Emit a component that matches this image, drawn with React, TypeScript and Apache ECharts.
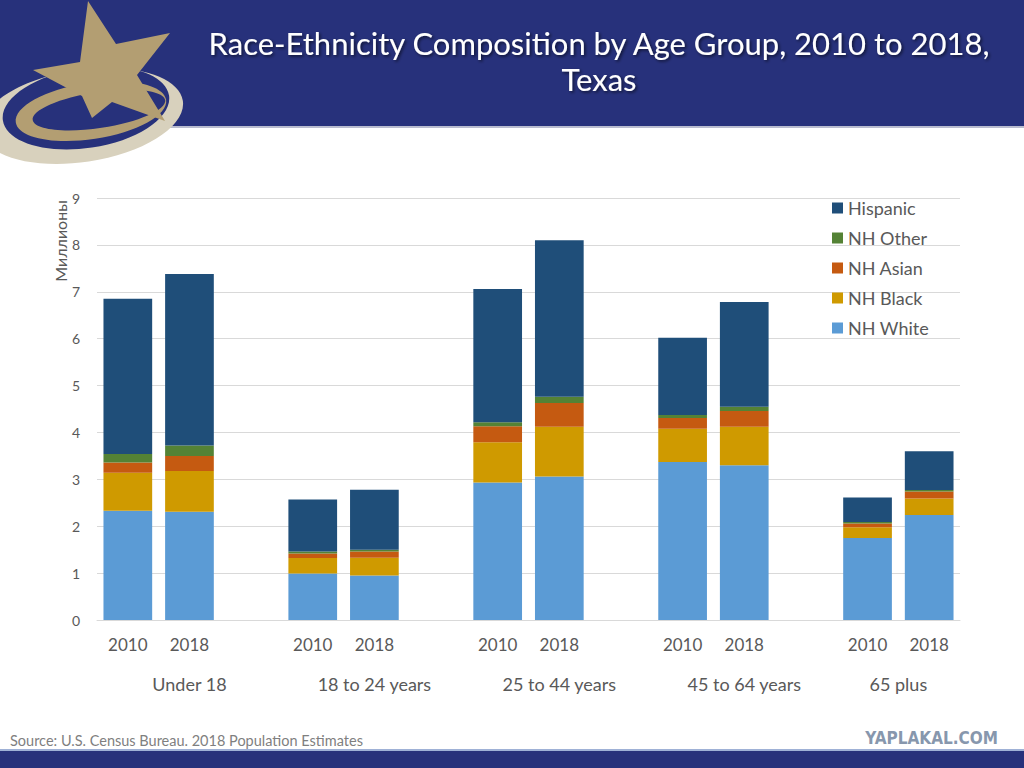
import { useEffect, useRef } from "react";
import * as echarts from "echarts";

// Race-ethnicity composition, millions of people
const groups = ["Under 18", "18 to 24 years", "25 to 44 years", "45 to 64 years", "65 plus"];
const years = ["2010", "2018"];
const nhWhite = [2.33, 2.31, 0.99, 0.95, 2.93, 3.06, 3.37, 3.3, 1.75, 2.24];
const nhBlack = [0.81, 0.87, 0.33, 0.38, 0.86, 1.06, 0.71, 0.82, 0.23, 0.35];
const nhAsian = [0.22, 0.32, 0.1, 0.13, 0.34, 0.51, 0.23, 0.34, 0.08, 0.15];
const nhOther = [0.18, 0.22, 0.04, 0.04, 0.09, 0.13, 0.06, 0.09, 0.03, 0.03];
const hispanic = [3.31, 3.66, 1.11, 1.28, 2.84, 3.34, 1.65, 2.23, 0.52, 0.83];
const yTicks = [0, 1, 2, 3, 4, 5, 6, 7, 8, 9];

const seriesDefs = [
  { name: "NH White", data: nhWhite, color: "#5b9bd5" },
  { name: "NH Black", data: nhBlack, color: "#cf9a00" },
  { name: "NH Asian", data: nhAsian, color: "#c55a11" },
  { name: "NH Other", data: nhOther, color: "#548235" },
  { name: "Hispanic", data: hispanic, color: "#1f4e79" },
];

const FONT = "Lato, 'Open Sans', sans-serif";
const NAVY = "#27317b";
const GOLD = "#b39e72";

// Excel layout: each group followed by an empty row, except the last
const slots: string[] = [];
const slotIndex: number[] = []; // -1 for blank slot
const groupCenters: number[] = [];
groups.forEach((_, g) => {
  const start = slots.length;
  years.forEach((y, i) => {
    slots.push(y);
    slotIndex.push(g * years.length + i);
  });
  if (g < groups.length - 1) {
    slots.push("");
    slotIndex.push(-1);
  }
  groupCenters.push((start + slots.length) / 2);
});

function ell(cx: number, cy: number, rx: number, ry: number, fill: string) {
  return {
    type: "ellipse",
    rotation: 0.15,
    originX: cx,
    originY: cy,
    shape: { cx, cy, rx, ry },
    style: { fill },
  };
}

function App() {
  const chartRef = useRef<HTMLDivElement>(null);

  useEffect(() => {
    document.body.style.margin = "0";
    if (!chartRef.current) return;
    const chart = echarts.init(chartRef.current, null, { renderer: "svg" });

    const starPts = [
      [88, 1], [116, 44], [170, 33], [137, 75], [165, 121],
      [112, 102], [92, 118], [82, 96], [33, 70], [80, 62],
    ];

    chart.setOption({
      animation: false,
      backgroundColor: "#ffffff",
      title: {
        text: "Race-Ethnicity Composition by Age Group, 2010 to 2018,\nTexas",
        left: 594,
        top: 20,
        textAlign: "center",
        textStyle: {
          color: "#ffffff",
          fontFamily: FONT,
          fontWeight: "normal",
          fontSize: 31,
          lineHeight: 36,
          textShadowColor: "rgba(0,0,0,0.6)",
          textShadowBlur: 3,
          textShadowOffsetX: 1.5,
          textShadowOffsetY: 1.5,
        },
      },
      legend: {
        orient: "vertical",
        left: 827,
        top: 194,
        itemWidth: 11,
        itemHeight: 11,
        itemGap: 12,
        icon: "rect",
        data: ["Hispanic", "NH Other", "NH Asian", "NH Black", "NH White"],
        textStyle: { color: "#595959", fontSize: 18, fontFamily: FONT },
      },
      grid: { left: 97, right: 64, top: 198, bottom: 148 },
      xAxis: [
        {
          type: "category",
          data: slots,
          axisLine: { lineStyle: { color: "#d9d9d9" } },
          axisTick: { show: false },
          axisLabel: {
            interval: 0,
            color: "#595959",
            fontSize: 17,
            fontFamily: FONT,
            margin: 16,
          },
        },
        {
          type: "value",
          min: 0,
          max: slots.length,
          interval: 0.5,
          position: "bottom",
          axisLine: { show: false },
          axisTick: { show: false },
          splitLine: { show: false },
          axisLabel: {
            color: "#595959",
            fontSize: 18,
            fontFamily: FONT,
            margin: 55,
            formatter: (v: number) => {
              const g = groupCenters.indexOf(v);
              return g >= 0 ? groups[g] : "";
            },
          },
        },
      ],
      yAxis: {
        type: "value",
        min: yTicks[0],
        max: yTicks[yTicks.length - 1],
        interval: 1,
        axisLine: { show: false },
        axisTick: { show: false },
        splitLine: { lineStyle: { color: "#d9d9d9" } },
        axisLabel: { color: "#595959", fontSize: 14, fontFamily: FONT, margin: 17 },
      },
      series: seriesDefs.map((s) => ({
        name: s.name,
        type: "bar",
        stack: "total",
        xAxisIndex: 0,
        barCategoryGap: "21%",
        itemStyle: { color: s.color },
        data: slotIndex.map((i) => (i < 0 ? "-" : s.data[i])),
      })),
      graphic: [
        { type: "rect", z: 0, shape: { x: 0, y: 0, width: 1024, height: 126 }, style: { fill: NAVY } },
        { type: "rect", z: 0, shape: { x: 0, y: 126, width: 1024, height: 2 }, style: { fill: "#b9bccf" } },
        {
          type: "group",
          z: 1,
          children: [
            ell(82, 116, 102, 46, "#d8d1bd"),
            ell(86, 108, 84, 40, NAVY),
            ell(91, 111, 76, 28, GOLD),
            ell(99, 110, 67, 18, NAVY),
            { type: "polygon", shape: { points: starPts }, style: { fill: GOLD } },
          ],
        },
        {
          type: "text",
          x: 60,
          y: 241,
          rotation: Math.PI / 2,
          style: {
            text: "Миллионы",
            fill: "#595959",
            fontSize: 16,
            fontFamily: FONT,
            align: "center",
            verticalAlign: "middle",
          },
        },
        {
          type: "text",
          x: 10,
          y: 740,
          style: {
            text: "Source: U.S. Census Bureau. 2018 Population Estimates",
            fill: "#7f7f7f",
            fontSize: 14.5,
            fontFamily: FONT,
            verticalAlign: "middle",
          },
        },
        {
          type: "text",
          x: 998,
          y: 738,
          style: {
            text: "YAPLAKAL.COM",
            fill: "#8797ad",
            fontSize: 17,
            fontWeight: "bold",
            fontFamily: "'Liberation Sans Narrow', 'DejaVu Sans Condensed', sans-serif",
            align: "right",
            verticalAlign: "middle",
          },
        },
        { type: "rect", shape: { x: 0, y: 749, width: 1024, height: 2 }, style: { fill: "#9fb1d6" } },
        { type: "rect", shape: { x: 0, y: 751, width: 1024, height: 17 }, style: { fill: NAVY } },
      ],
    });

    return () => {
      chart.dispose();
    };
  }, []);

  return <div ref={chartRef} style={{ width: "1024px", height: "768px" }} />;
}

export default App;
